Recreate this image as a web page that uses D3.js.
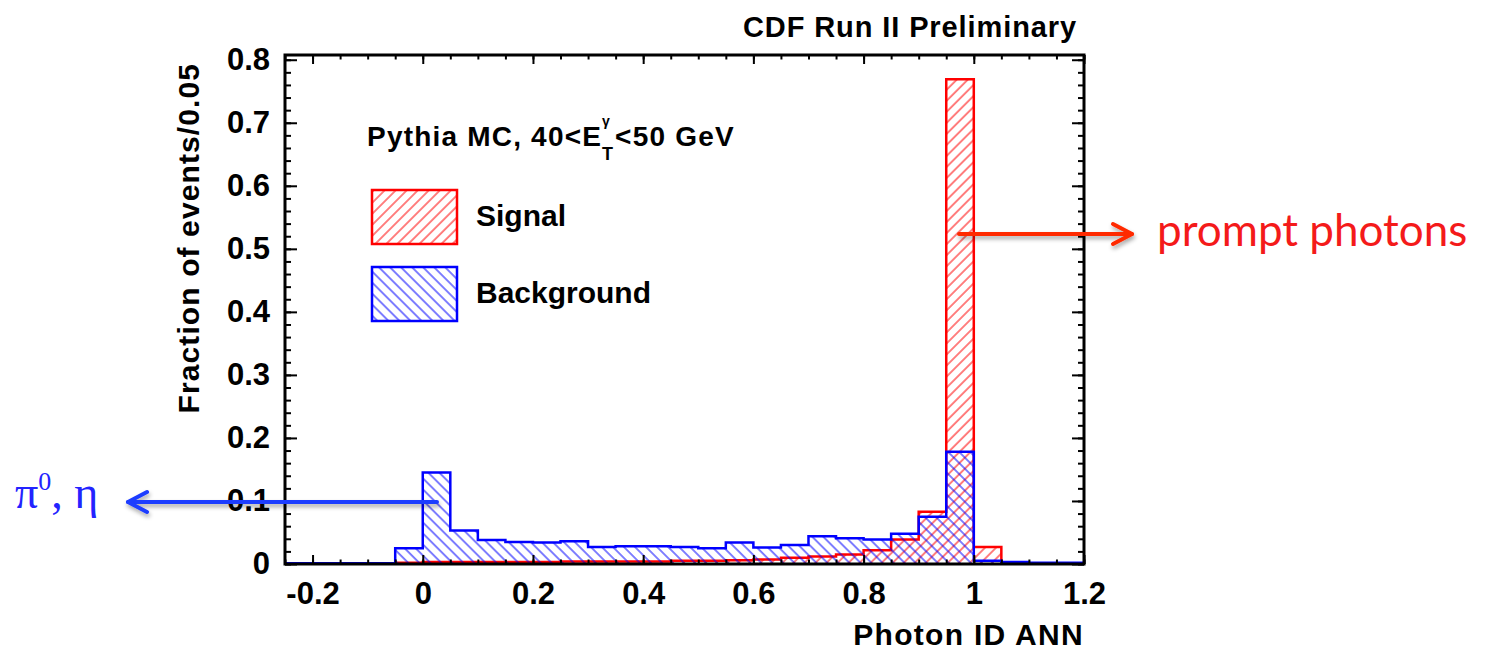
<!DOCTYPE html>
<html>
<head>
<meta charset="utf-8">
<script src="https://cdn.jsdelivr.net/npm/d3@7"></script>
<style>
  html, body { margin: 0; padding: 0; background: #fff; }
  svg { display: block; }
</style>
</head>
<body>
<div id="chart"></div>
<script>
// bin lower edges, width 0.05
const binStarts = [-0.25, -0.2, -0.15, -0.1, -0.05, 0, 0.05, 0.1, 0.15, 0.2, 0.25, 0.3, 0.35, 0.4,
    0.45, 0.5, 0.55, 0.6, 0.65, 0.7, 0.75, 0.8, 0.85, 0.9, 0.95, 1.0, 1.05, 1.1, 1.15];
const binWidth = 0.05;

const signal = [0, 0, 0, 0, 0.002, 0.003, 0.003, 0.003, 0.003, 0.003, 0.004, 0.004, 0.004, 0.004,
    0.005, 0.005, 0.006, 0.007, 0.010, 0.012, 0.015, 0.022, 0.039, 0.083, 0.769, 0.027, 0, 0, 0];
const background = [0.001, 0.001, 0.001, 0.001, 0.025, 0.145, 0.053, 0.038, 0.035, 0.034, 0.036, 0.027, 0.028, 0.028,
    0.027, 0.025, 0.034, 0.026, 0.030, 0.044, 0.041, 0.039, 0.048, 0.075, 0.178, 0.005, 0.003, 0.002, 0.002];

const xMajorTicks = [-0.2, 0, 0.2, 0.4, 0.6, 0.8, 1, 1.2];
const yMajorTicks = [0, 0.1, 0.2, 0.3, 0.4, 0.5, 0.6, 0.7, 0.8];

const W = 1485, H = 654;
const margin = { top: 55, right: 401, bottom: 90, left: 285 };
const width = W - margin.left - margin.right;
const height = H - margin.top - margin.bottom;

const svg = d3.select('#chart').append('svg')
    .attr('width', W)
    .attr('height', H)
    .style('font-family', '"Liberation Sans", Arial, Helvetica, sans-serif');

const defs = svg.append('defs');

function hatch(id, color, angle) {
    defs.append('pattern')
        .attr('id', id)
        .attr('patternUnits', 'userSpaceOnUse')
        .attr('width', 7.8)
        .attr('height', 7.8)
        .attr('patternTransform', 'rotate(' + angle + ')')
        .append('line')
        .attr('x1', 1).attr('x2', 1)
        .attr('y1', 0).attr('y2', 7.8)
        .attr('stroke', color)
        .attr('stroke-width', 1);
}
hatch('hatch-sig', '#ff0000', 45);
hatch('hatch-bkg', '#0000ff', -45);

const shadow = defs.append('filter')
    .attr('id', 'shadow')
    .attr('x', '-10%').attr('y', '-100%')
    .attr('width', '120%').attr('height', '300%');
shadow.append('feDropShadow')
    .attr('dx', 1).attr('dy', 3)
    .attr('stdDeviation', 2)
    .attr('flood-color', '#000')
    .attr('flood-opacity', 0.35);

defs.append('clipPath').attr('id', 'frame-clip')
    .append('rect')
    .attr('width', width)
    .attr('height', height);

const g = svg.append('g')
    .attr('transform', 'translate(' + margin.left + ',' + margin.top + ')');

const x = d3.scaleLinear().domain([-0.25, 1.2]).range([0, width]);
const y = d3.scaleLinear().domain([0, 0.8075]).range([height, 0]);

function stepPath(values) {
    const p = d3.path();
    p.moveTo(x(binStarts[0]), y(0));
    binStarts.forEach(function(lo, i) {
        p.lineTo(x(lo), y(values[i]));
        p.lineTo(x(lo + binWidth), y(values[i]));
    });
    p.lineTo(x(binStarts[binStarts.length - 1] + binWidth), y(0));
    return p.toString();
}

const plot = g.append('g').attr('clip-path', 'url(#frame-clip)');

plot.append('path')
    .attr('d', stepPath(signal))
    .attr('fill', 'url(#hatch-sig)')
    .attr('stroke', '#ff0000')
    .attr('stroke-width', 2.5);

plot.append('path')
    .attr('d', stepPath(background))
    .attr('fill', 'url(#hatch-bkg)')
    .attr('stroke', '#0000ff')
    .attr('stroke-width', 2.5);

// axes, ticks pointing inward
const xMinor = d3.range(-0.25, 1.2001, 0.05);
const yMinor = d3.range(0, 0.8075, 0.02);
const fmt = function(d) { return String(+d.toFixed(1)); };

function styleAxis(sel) {
    sel.select('.domain').remove();
    sel.selectAll('line').attr('stroke', '#000').attr('stroke-width', 2);
    sel.selectAll('text')
        .attr('fill', '#000')
        .style('font-size', '31px')
        .style('font-weight', 'bold')
        .style('font-family', '"Liberation Sans", Arial, sans-serif');
}

g.append('g').attr('transform', 'translate(0,' + height + ')')
    .call(d3.axisBottom(x).tickValues(xMinor).tickSize(-4.5).tickFormat(''))
    .call(styleAxis);
g.append('g').attr('transform', 'translate(0,' + height + ')')
    .call(d3.axisBottom(x).tickValues(xMajorTicks).tickSize(-9).tickPadding(18).tickFormat(fmt))
    .call(styleAxis);
g.append('g')
    .call(d3.axisTop(x).tickValues(xMinor).tickSize(-4.5).tickFormat(''))
    .call(styleAxis);
g.append('g')
    .call(d3.axisTop(x).tickValues(xMajorTicks).tickSize(-9).tickFormat(''))
    .call(styleAxis);

g.append('g')
    .call(d3.axisLeft(y).tickValues(yMinor).tickSize(-6).tickFormat(''))
    .call(styleAxis);
g.append('g')
    .call(d3.axisLeft(y).tickValues(yMajorTicks).tickSize(-12).tickPadding(15).tickFormat(fmt))
    .call(styleAxis);
g.append('g').attr('transform', 'translate(' + width + ',0)')
    .call(d3.axisRight(y).tickValues(yMinor).tickSize(-6).tickFormat(''))
    .call(styleAxis);
g.append('g').attr('transform', 'translate(' + width + ',0)')
    .call(d3.axisRight(y).tickValues(yMajorTicks).tickSize(-12).tickFormat(''))
    .call(styleAxis);

g.append('rect')
    .attr('width', width)
    .attr('height', height)
    .attr('fill', 'none')
    .attr('stroke', '#000')
    .attr('stroke-width', 3);

// titles
svg.append('text')
    .attr('x', 1077).attr('y', 37)
    .attr('text-anchor', 'end')
    .style('font-size', '29px').style('font-weight', 'bold')
    .style('letter-spacing', '0.9px')
    .text('CDF Run II Preliminary');

svg.append('text')
    .attr('x', 1084).attr('y', 645)
    .attr('text-anchor', 'end')
    .style('font-size', '30px').style('font-weight', 'bold')
    .style('letter-spacing', '1.3px')
    .text('Photon ID ANN');

svg.append('text')
    .attr('transform', 'translate(199,63) rotate(-90)')
    .attr('text-anchor', 'end')
    .style('font-size', '30px').style('font-weight', 'bold')
    .style('letter-spacing', '1.1px')
    .text('Fraction of events/0.05');

// sample label with E_T^gamma
const lab = svg.append('g').style('font-weight', 'bold');
const lab1 = lab.append('text')
    .attr('x', 367).attr('y', 146)
    .style('font-size', '28px').style('letter-spacing', '1.2px')
    .text('Pythia MC, 40<E');
const lx = 367 + lab1.node().getComputedTextLength();
lab.append('text')
    .attr('x', lx).attr('y', 126)
    .style('font-size', '14px')
    .text('γ');
lab.append('text')
    .attr('x', lx).attr('y', 160)
    .style('font-size', '18px')
    .text('T');
lab.append('text')
    .attr('x', lx + 13).attr('y', 146)
    .style('font-size', '28px').style('letter-spacing', '1.2px')
    .text('<50 GeV');

// legend
const legendItems = [
    { label: 'Signal', fill: 'url(#hatch-sig)', stroke: '#ff0000', top: 190 },
    { label: 'Background', fill: 'url(#hatch-bkg)', stroke: '#0000ff', top: 267 }
];
legendItems.forEach(function(d) {
    svg.append('rect')
        .attr('x', 372).attr('y', d.top)
        .attr('width', 85).attr('height', 54)
        .attr('fill', d.fill)
        .attr('stroke', d.stroke)
        .attr('stroke-width', 2.5);
    svg.append('text')
        .attr('x', 476).attr('y', d.top + 36)
        .style('font-size', '30px').style('font-weight', 'bold')
        .text(d.label);
});

// annotations
function arrow(x1, x2, yy, color, dir) {
    const a = svg.append('g')
        .attr('filter', 'url(#shadow)')
        .attr('fill', 'none')
        .attr('stroke', color)
        .attr('stroke-width', 4)
        .attr('stroke-linecap', 'round')
        .attr('stroke-linejoin', 'round');
    a.append('line')
        .attr('x1', x1).attr('x2', x2)
        .attr('y1', yy).attr('y2', yy);
    a.append('path')
        .attr('d', 'M' + (x2 - dir * 19) + ',' + (yy - 10) + 'L' + x2 + ',' + yy + 'L' + (x2 - dir * 19) + ',' + (yy + 10));
}
arrow(437, 128, 502, '#1f3cff', -1);
arrow(959, 1132, 234, '#ff2a00', 1);

const pi = svg.append('text')
    .attr('x', 15).attr('y', 508)
    .attr('fill', '#2323ff')
    .style('font-family', '"Liberation Serif", "DejaVu Serif", serif')
    .style('font-size', '46px');
pi.append('tspan').text('π');
pi.append('tspan').attr('dy', -18).style('font-size', '26px').text('0');
pi.append('tspan').attr('dy', 18).text(', η');

svg.append('text')
    .attr('x', 1157).attr('y', 246)
    .attr('fill', '#f41a1a')
    .style('font-family', 'Lato, "Open Sans", sans-serif')
    .style('font-size', '44px')
    .text('prompt photons');
</script>
</body>
</html>
